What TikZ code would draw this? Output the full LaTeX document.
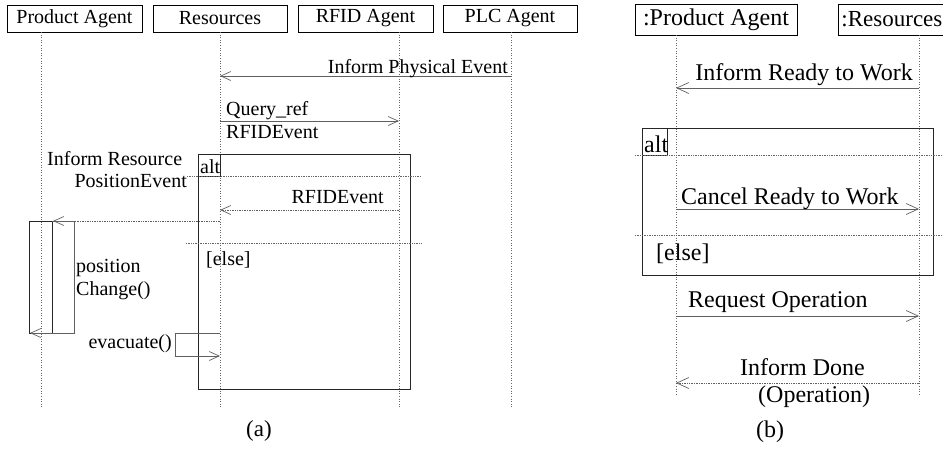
\documentclass[tikz,border=0pt]{standalone}
\usepackage{fontspec}
\setmainfont{Liberation Serif}
\usetikzlibrary{arrows.meta}
\begin{document}
\begin{tikzpicture}[x=1pt,y=-1pt,
  fa/.style={font=\fontsize{20}{22}\selectfont, inner sep=0pt},
  fb/.style={font=\fontsize{24}{26}\selectfont, inner sep=0pt},
  hdr/.style={draw=black, line width=0.9pt, inner sep=0pt},
  life/.style={draw=gray!80!black, dotted, line width=0.6pt},
  msg/.style={draw=gray!75!black, line width=0.7pt},
  rmsg/.style={msg, densely dotted},
  tipa/.style={-{Straight Barb[length=10pt,width=9pt]}},
  tipb/.style={-{Straight Barb[length=12pt,width=11pt]}},
  frame/.style={draw=black!85, line width=1pt},
  sep/.style={draw=gray!80!black, densely dotted, line width=0.7pt}
]
\useasboundingbox (0,0) rectangle (943,448);
\clip (0,0) rectangle (943,448);

% ---------------- (a) ----------------
\node[hdr, fa, minimum width=135pt, minimum height=27pt] (hPA) at (74.5,18.5) {Product Agent};
\node[hdr, fa, minimum width=134pt, minimum height=27pt] (hRS) at (220,18.5) {Resources};
\node[hdr, fa, minimum width=135pt, minimum height=27pt] (hRF) at (365.5,18.5) {RFID Agent};
\node[hdr, fa, minimum width=134pt, minimum height=27pt] (hPL) at (510,18.5) {PLC Agent};

\coordinate (paT) at (41,32);  \coordinate (paB) at (41,408);
\coordinate (rsT) at (220,32); \coordinate (rsB) at (220,408);
\coordinate (rfT) at (399,32); \coordinate (rfB) at (399,408);
\coordinate (plT) at (511,32); \coordinate (plB) at (511,408);
\draw[life] (paT) -- (paB);
\draw[life] (rsT) -- (rsB);
\draw[life] (rfT) -- (rfB);
\draw[life] (plT) -- (plB);

% alt frame (a)
\coordinate (fA1) at (198,154); \coordinate (fA2) at (410,389);
\draw[frame] (fA1) rectangle (fA2);
\coordinate (tA2) at (220,176);
\draw[frame, line width=0.8pt] (fA1) rectangle (tA2);
\node[fa, anchor=base west] (altA) at (200,173) {alt};
\coordinate (sA1) at (187,176); \coordinate (sA2) at (421,176);
\coordinate (sA3) at (186,243); \coordinate (sA4) at (421,243);
\draw[sep] (sA1) -- (sA2);
\draw[sep] (sA3) -- (sA4);
\node[fa, anchor=base west] (elseA) at (206,265) {[else]};

% messages (a)
\coordinate (m1a) at (511,76); \coordinate (m1b) at (220,76);
\draw[msg, tipa] (m1a) -- (m1b);
\node[fa, anchor=base east] (l1) at (508,73) {Inform Physical Event};

\coordinate (m2a) at (220,121); \coordinate (m2b) at (399,121);
\draw[msg, tipa] (m2a) -- (m2b);
\node[fa, anchor=base west] (l2a) at (226,115) {Query\_ref};
\node[fa, anchor=base west] (l2b) at (226,138) {RFIDEvent};

\coordinate (m3a) at (399,210); \coordinate (m3b) at (220,210);
\draw[rmsg, tipa] (m3a) -- (m3b);
\node[fa, anchor=base east] (l3) at (384,203) {RFIDEvent};

% activation box on Product Agent
\coordinate (act1) at (29,221); \coordinate (act2) at (52,333);
\draw[draw=black!85, line width=1pt] (act1) rectangle (act2);

\coordinate (m4a) at (220,221); \coordinate (m4b) at (53,221);
\draw[rmsg, tipa] (m4a) -- (m4b);
\node[fa, anchor=base west] (l4a) at (47,165) {Inform Resource};
\node[fa, anchor=base east] (l4b) at (187,187) {PositionEvent};

% self message positionChange()
\coordinate (s1a) at (52,221); \coordinate (s1b) at (74,221);
\coordinate (s1c) at (74,333); \coordinate (s1d) at (30,333);
\draw[msg, tipa] (s1a) -- (s1b) -- (s1c) -- (s1d);
\node[fa, anchor=base west] (l5a) at (76,272) {position};
\node[fa, anchor=base west] (l5b) at (76,295) {Change()};

% self message evacuate()
\coordinate (s2a) at (220,333); \coordinate (s2b) at (175,333);
\coordinate (s2c) at (175,356); \coordinate (s2d) at (220,356);
\draw[msg, tipa] (s2a) -- (s2b) -- (s2c) -- (s2d);
\node[fa, anchor=base east] (l6) at (172,348) {evacuate()};

\node[fa, font=\fontsize{23}{25}\selectfont, anchor=base] (capA) at (259,436) {(a)};

% ---------------- (b) ----------------
\node[hdr, fb, minimum width=162pt, minimum height=31pt] (hPB) at (716,19.5) {:Product Agent};
\node[hdr, fb, font=\fontsize{23}{25}\selectfont, anchor=west, inner xsep=3pt, minimum height=31pt] (hRB) at (838,19.5) {:Resources};

\coordinate (pbT) at (676,35); \coordinate (pbB) at (676,395);
\coordinate (rbT) at (919,35); \coordinate (rbB) at (919,395);
\draw[life] (pbT) -- (pbB);
\draw[life] (rbT) -- (rbB);

\coordinate (n1a) at (919,88); \coordinate (n1b) at (676,88);
\draw[msg, tipb] (n1a) -- (n1b);
\node[fb, anchor=base east] (k1) at (913,80) {Inform Ready to Work};

\coordinate (fB1) at (642,128); \coordinate (fB2) at (933,275);
\draw[frame] (fB1) rectangle (fB2);
\coordinate (tB2) at (667,155);
\draw[frame, line width=0.8pt] (fB1) rectangle (tB2);
\node[fb, anchor=base west] (altB) at (644,152) {alt};
\coordinate (sB1) at (635,155); \coordinate (sB2) at (943,155);
\coordinate (sB3) at (635,235); \coordinate (sB4) at (943,235);
\draw[sep] (sB1) -- (sB2);
\draw[sep] (sB3) -- (sB4);

\coordinate (n2a) at (676,209); \coordinate (n2b) at (919,209);
\draw[msg, tipb] (n2a) -- (n2b);
\node[fb, anchor=base west] (k2) at (681,204) {Cancel Ready to Work};

\node[fb, anchor=base west] (elseB) at (656,260) {[else]};

\coordinate (n3a) at (676,316); \coordinate (n3b) at (919,316);
\draw[msg, tipb] (n3a) -- (n3b);
\node[fb, anchor=base west] (k3) at (688,307) {Request Operation};

\coordinate (n4a) at (919,383); \coordinate (n4b) at (676,383);
\draw[rmsg, tipb] (n4a) -- (n4b);
\node[fb, anchor=base west] (k4a) at (740,375) {Inform Done};
\node[fb, anchor=base west] (k4b) at (758,402) {(Operation)};

\node[fb, anchor=base] (capB) at (770,437) {(b)};
\end{tikzpicture}
\end{document}
